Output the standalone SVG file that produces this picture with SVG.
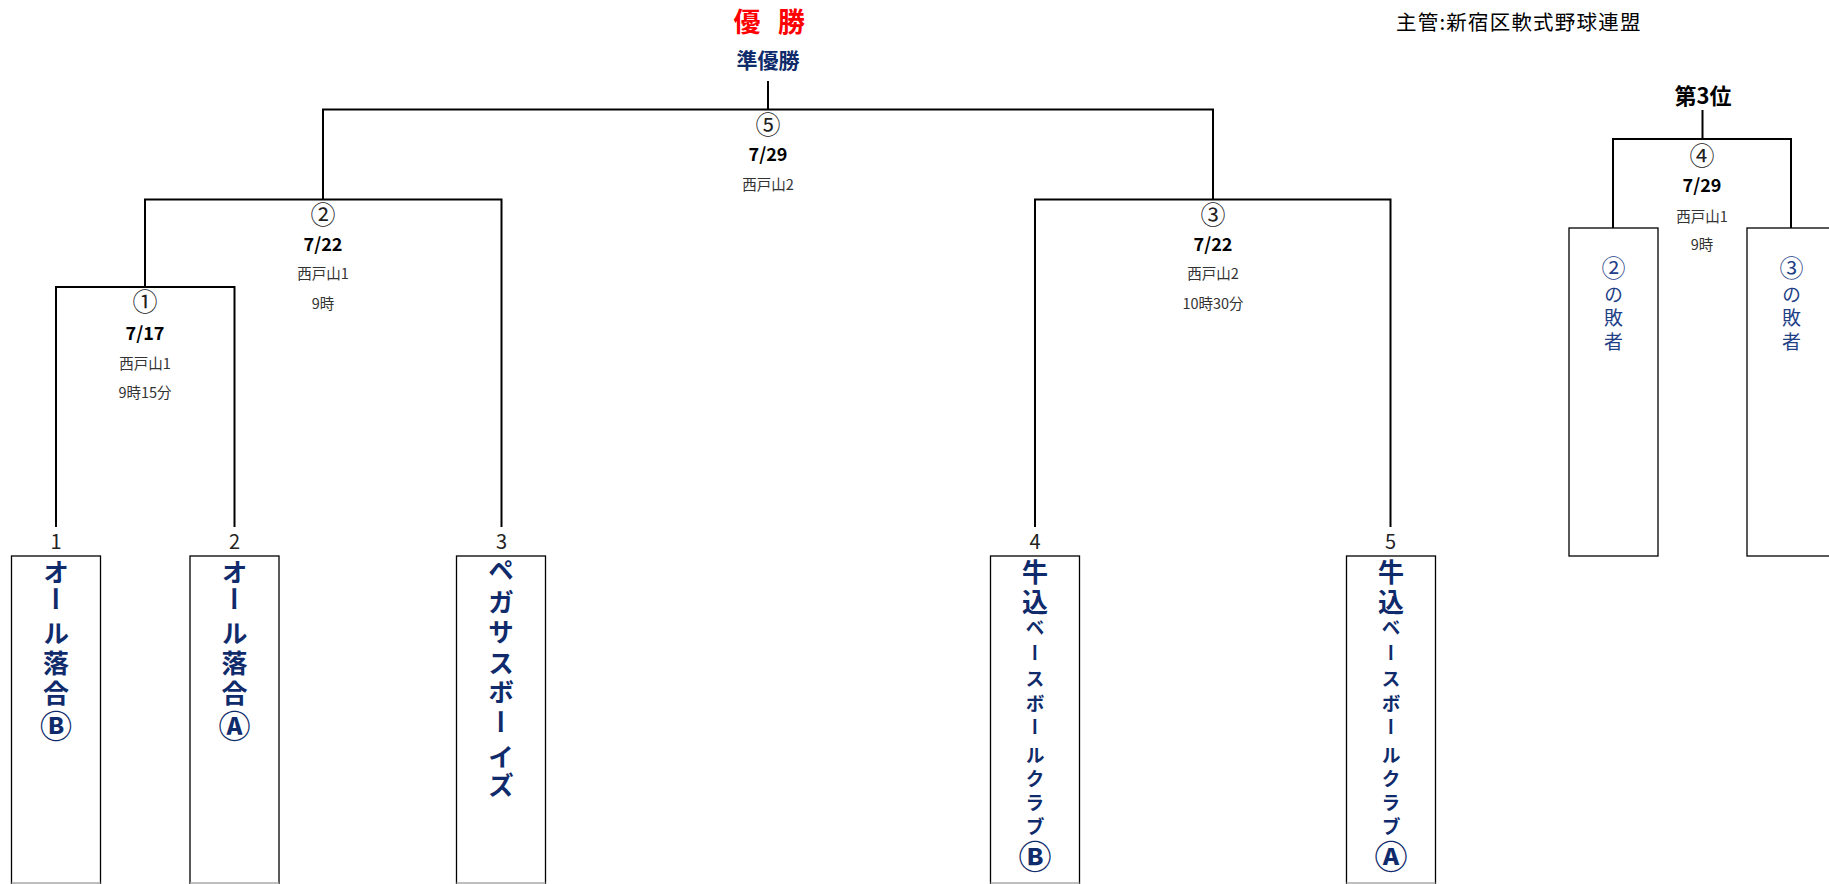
<svg xmlns="http://www.w3.org/2000/svg" width="1829" height="884" viewBox="0 0 1829 884">
<style>
text{font-family:"Noto Sans CJK JP","Liberation Sans",sans-serif;}
.c{text-anchor:middle;dominant-baseline:central;}
.num{font-size:25px;fill:#222;}
.date{font-size:18px;font-weight:bold;fill:#000;}
.ven{font-size:14.5px;fill:#333;}
.seed{font-size:20px;fill:#222;}
.team{font-weight:bold;fill:#0f2b6b;writing-mode:vertical-rl;}
.loser{fill:#1f3f86;writing-mode:vertical-rl;font-size:19px;}
.ln{stroke:#000;stroke-width:2;fill:none;}
.box{stroke:#000;stroke-width:1.3;fill:#fff;}
.boxb{stroke:#aaa;stroke-width:1.3;}
</style>
<rect width="1829" height="884" fill="#fff"/>

<g id="title">
<text class="c" y="20" font-size="27" font-weight="bold" fill="#ff0000"><tspan x="747">優</tspan><tspan x="791.5">勝</tspan></text>
<text class="c" x="768" y="59" font-size="21" font-weight="bold" fill="#0f2b6b">準優勝</text>
<text x="1396" y="21" font-size="20.5" letter-spacing="1.2" fill="#000" dominant-baseline="central">主管:新宿区軟式野球連盟</text>
<text class="c" x="1703" y="94" font-size="22" font-weight="bold" fill="#000">第3位</text>
</g>

<g id="connectors">
<path class="ln" d="M768 81V109.5M323 199.5V109.5H1213V199.5"/>
<path class="ln" d="M145 287V199.5H501.5V527"/>
<path class="ln" d="M56 527V287H234.5V527"/>
<path class="ln" d="M1035 527V199.5H1390.5V527"/>
<path class="ln" d="M1702.5 110V139M1613 228V139H1791V228"/>
</g>

<g id="match5">
<text class="c num" x="768" y="122.5">⑤</text>
<text class="c date" x="768" y="153">7/29</text>
<text class="c ven" x="768" y="183">西戸山2</text>
</g>
<g id="match2">
<text class="c num" x="323" y="213">②</text>
<text class="c date" x="323" y="243">7/22</text>
<text class="c ven" x="323" y="272">西戸山1</text>
<text class="c ven" x="323" y="302">9時</text>
</g>
<g id="match1">
<text class="c num" x="145" y="300">①</text>
<text class="c date" x="145" y="332">7/17</text>
<text class="c ven" x="145" y="362">西戸山1</text>
<text class="c ven" x="145" y="391">9時15分</text>
</g>
<g id="match3">
<text class="c num" x="1213" y="213">③</text>
<text class="c date" x="1213" y="243">7/22</text>
<text class="c ven" x="1213" y="272">西戸山2</text>
<text class="c ven" x="1213" y="302">10時30分</text>
</g>
<g id="match4">
<text class="c num" x="1702" y="154">④</text>
<text class="c date" x="1702" y="184">7/29</text>
<text class="c ven" x="1702" y="215">西戸山1</text>
<text class="c ven" x="1702" y="243">9時</text>
</g>

<g id="team1">
<text class="c seed" x="56" y="540">1</text>
<rect class="box" x="11.5" y="556" width="89" height="340"/>
<line class="boxb" x1="11.5" y1="883" x2="100.5" y2="883"/>
<text class="team" x="56" font-size="26"><tspan y="559 586 620 650 680">オール落合</tspan><tspan font-size="32" y="710">Ⓑ</tspan></text>
</g>
<g id="team2">
<text class="c seed" x="234.5" y="540">2</text>
<rect class="box" x="190" y="556" width="89" height="340"/>
<line class="boxb" x1="190" y1="883" x2="279" y2="883"/>
<text class="team" x="234.5" font-size="26"><tspan y="559 586 620 650 680">オール落合</tspan><tspan font-size="32" y="710">Ⓐ</tspan></text>
</g>
<g id="team3">
<text class="c seed" x="501.5" y="540">3</text>
<rect class="box" x="456.5" y="556" width="89" height="340"/>
<line class="boxb" x1="456.5" y1="883" x2="545.5" y2="883"/>
<text class="team" x="501" y="557 589 619 650 679 709 744 772" font-size="26">ペガサスボーイズ</text>
</g>
<g id="team4">
<text class="c seed" x="1035" y="540">4</text>
<rect class="box" x="990.5" y="556" width="89" height="340"/>
<line class="boxb" x1="990.5" y1="883" x2="1079.5" y2="883"/>
<text class="team" x="1035" font-size="26"><tspan y="559 589">牛込</tspan><tspan font-size="19" y="618.5 643.5 669.5 694.5 717.5 746.5 769.5 793.5 817.5">ベースボールクラブ</tspan><tspan font-size="33" y="839.5">Ⓑ</tspan></text>
</g>
<g id="team5">
<text class="c seed" x="1390.5" y="540">5</text>
<rect class="box" x="1346.5" y="556" width="89" height="340"/>
<line class="boxb" x1="1346.5" y1="883" x2="1435.5" y2="883"/>
<text class="team" x="1391" font-size="26"><tspan y="559 589">牛込</tspan><tspan font-size="19" y="618.5 643.5 669.5 694.5 717.5 746.5 769.5 793.5 817.5">ベースボールクラブ</tspan><tspan font-size="33" y="839.5">Ⓐ</tspan></text>
</g>
<g id="loser2">
<rect class="box" x="1569" y="228" width="89" height="328"/>
<text class="loser" x="1613.5"><tspan font-size="24" y="256">②</tspan><tspan y="285.5 308.5 332.5">の敗者</tspan></text>
</g>
<g id="loser3">
<rect class="box" x="1747" y="228" width="89" height="328"/>
<text class="loser" x="1791.5"><tspan font-size="24" y="256">③</tspan><tspan y="285.5 308.5 332.5">の敗者</tspan></text>
</g>
</svg>
